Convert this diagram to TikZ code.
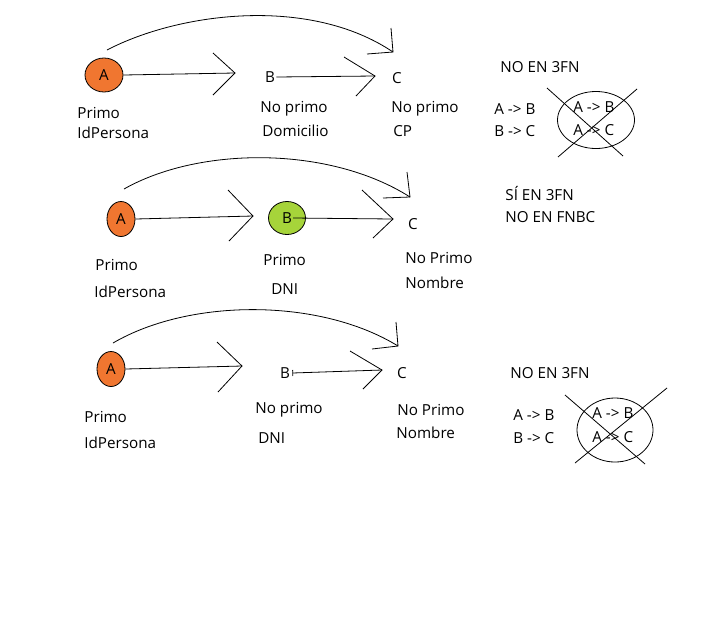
\documentclass[tikz,border=0pt]{standalone}
\usepackage{fontspec}
\setmainfont{Open Sans}
\usetikzlibrary{shapes.geometric,arrows.meta}

\definecolor{keyorange}{RGB}{240,118,48}
\definecolor{keygreen}{RGB}{166,212,58}

\tikzset{
  attr/.style={ellipse, draw, line width=0.8pt, inner sep=0pt},
  lbl/.style={anchor=base west, inner sep=0pt},
  letter/.style={inner sep=1pt},
}

\begin{document}
\begin{tikzpicture}[x=1pt, y=-1pt, line width=0.8pt, font=\fontsize{15.2}{18}\selectfont]
  \useasboundingbox[fill=white] (0,0) rectangle (701,638);

  % first row
  \node[attr, fill=keyorange, minimum width=38pt, minimum height=34pt] (a1) at (104,75) {A};
  \node[letter] (b1) at (270,77) {B};
  \node[letter] (c1) at (397,78) {C};
  \coordinate (t1a) at (235,73);
  \coordinate (t1b) at (375,76);
  \coordinate (s1) at (107,50);
  \coordinate (e1) at (393,52);

  \draw (a1.east) -- (t1a);
  \draw (t1a) ++(-22,-20) -- (t1a) -- ++(-22,22);
  \draw (b1.east) -- (t1b);
  \draw (t1b) ++(-31,-19) -- (t1b) -- ++(-19,20);
  \draw (s1) .. controls (180,12) and (310,-4) .. (e1);
  \draw (e1) ++(-2,-24) -- (e1) -- ++(-26,2);

  \node[lbl] (p1) at (77,118) {Primo};
  \node[lbl] (i1) at (77,138) {IdPersona};
  \node[lbl] (nb1) at (260,112) {No primo};
  \node[lbl] (d1) at (262,136) {Domicilio};
  \node[lbl] (nc1) at (391,112) {No primo};
  \node[lbl] (cp1) at (393,136) {CP};

  \node[lbl] (r1) at (500,72) {NO EN 3FN};
  \node[lbl] (f1a) at (494,114) {A -> B};
  \node[lbl] (f1b) at (494,136) {B -> C};
  \draw (596,120) ellipse [x radius=38.5, y radius=28.5];
  \node[lbl] (g1a) at (573,112) {A -> B};
  \node[lbl] (g1b) at (573,135) {A -> C};
  \draw (547,88) -- (623,156);
  \draw (637,89) -- (558,157);

  % second row
  \node[attr, fill=keyorange, minimum width=28pt, minimum height=35pt] (a2) at (121,219) {A};
  \node[attr, fill=keygreen, minimum width=37pt, minimum height=33pt] (b2) at (287,218) {B};
  \node[letter] (c2) at (413,224) {C};
  \coordinate (t2a) at (253,216);
  \coordinate (t2b) at (393,219);
  \coordinate (s2) at (124,189);
  \coordinate (e2) at (410,197);

  \draw (a2.east) -- (t2a);
  \draw (t2a) ++(-25,-26) -- (t2a) -- ++(-24,25);
  \draw ([xshift=6pt]b2.center) -- (t2b);
  \draw (t2b) ++(-31,-29) -- (t2b) -- ++(-20,19);
  \draw (s2) .. controls (200,146) and (330,146) .. (e2);
  \draw (e2) ++(-3,-25) -- (e2) -- ++(-27,1);

  \node[lbl] (p2) at (95,270) {Primo};
  \node[lbl] (i2) at (94,297) {IdPersona};
  \node[lbl] (pb2) at (263,265) {Primo};
  \node[lbl] (d2) at (271,294) {DNI};
  \node[lbl] (nc2) at (405,263) {No Primo};
  \node[lbl] (n2) at (405,288) {Nombre};

  \node[lbl] (r2a) at (505,200) {SÍ EN 3FN};
  \node[lbl] (r2b) at (505,222) {NO EN FNBC};

  % third row
  \node[attr, fill=keyorange, minimum width=28pt, minimum height=35pt] (a3) at (111,369) {A};
  \node[letter] (b3) at (285,373) {B};
  \node[letter] (c3) at (402,373) {C};
  \coordinate (t3a) at (242,366);
  \coordinate (t3b) at (382,370);
  \coordinate (s3) at (113,343);
  \coordinate (e3) at (398,346);

  \draw (a3.east) -- (t3a);
  \draw (t3a) ++(-25,-24) -- (t3a) -- ++(-24,26);
  \draw[{Bar[width=6pt]}-] ([xshift=1pt]b3.east) -- (t3b);
  \draw (t3b) ++(-32,-19) -- (t3b) -- ++(-19,19);
  \draw (s3) .. controls (190,298) and (320,298) .. (e3);
  \draw (e3) ++(-2,-24) -- (e3) -- ++(-26,3);

  \node[lbl] (p3) at (84,422) {Primo};
  \node[lbl] (i3) at (84,448) {IdPersona};
  \node[lbl] (nb3) at (255,413) {No primo};
  \node[lbl] (d3) at (258,443) {DNI};
  \node[lbl] (nc3) at (397,415) {No Primo};
  \node[lbl] (n3) at (396,438) {Nombre};

  \node[lbl] (r3) at (510,378) {NO EN 3FN};
  \node[lbl] (f3a) at (513,420) {A -> B};
  \node[lbl] (f3b) at (513,443) {B -> C};
  \draw (615,430) ellipse [x radius=38, y radius=32];
  \node[lbl] (g3a) at (592,418) {A -> B};
  \node[lbl] (g3b) at (592,442) {A -> C};
  \draw (565,395) -- (645,464);
  \draw (667,388) -- (575,463);
\end{tikzpicture}
\end{document}
